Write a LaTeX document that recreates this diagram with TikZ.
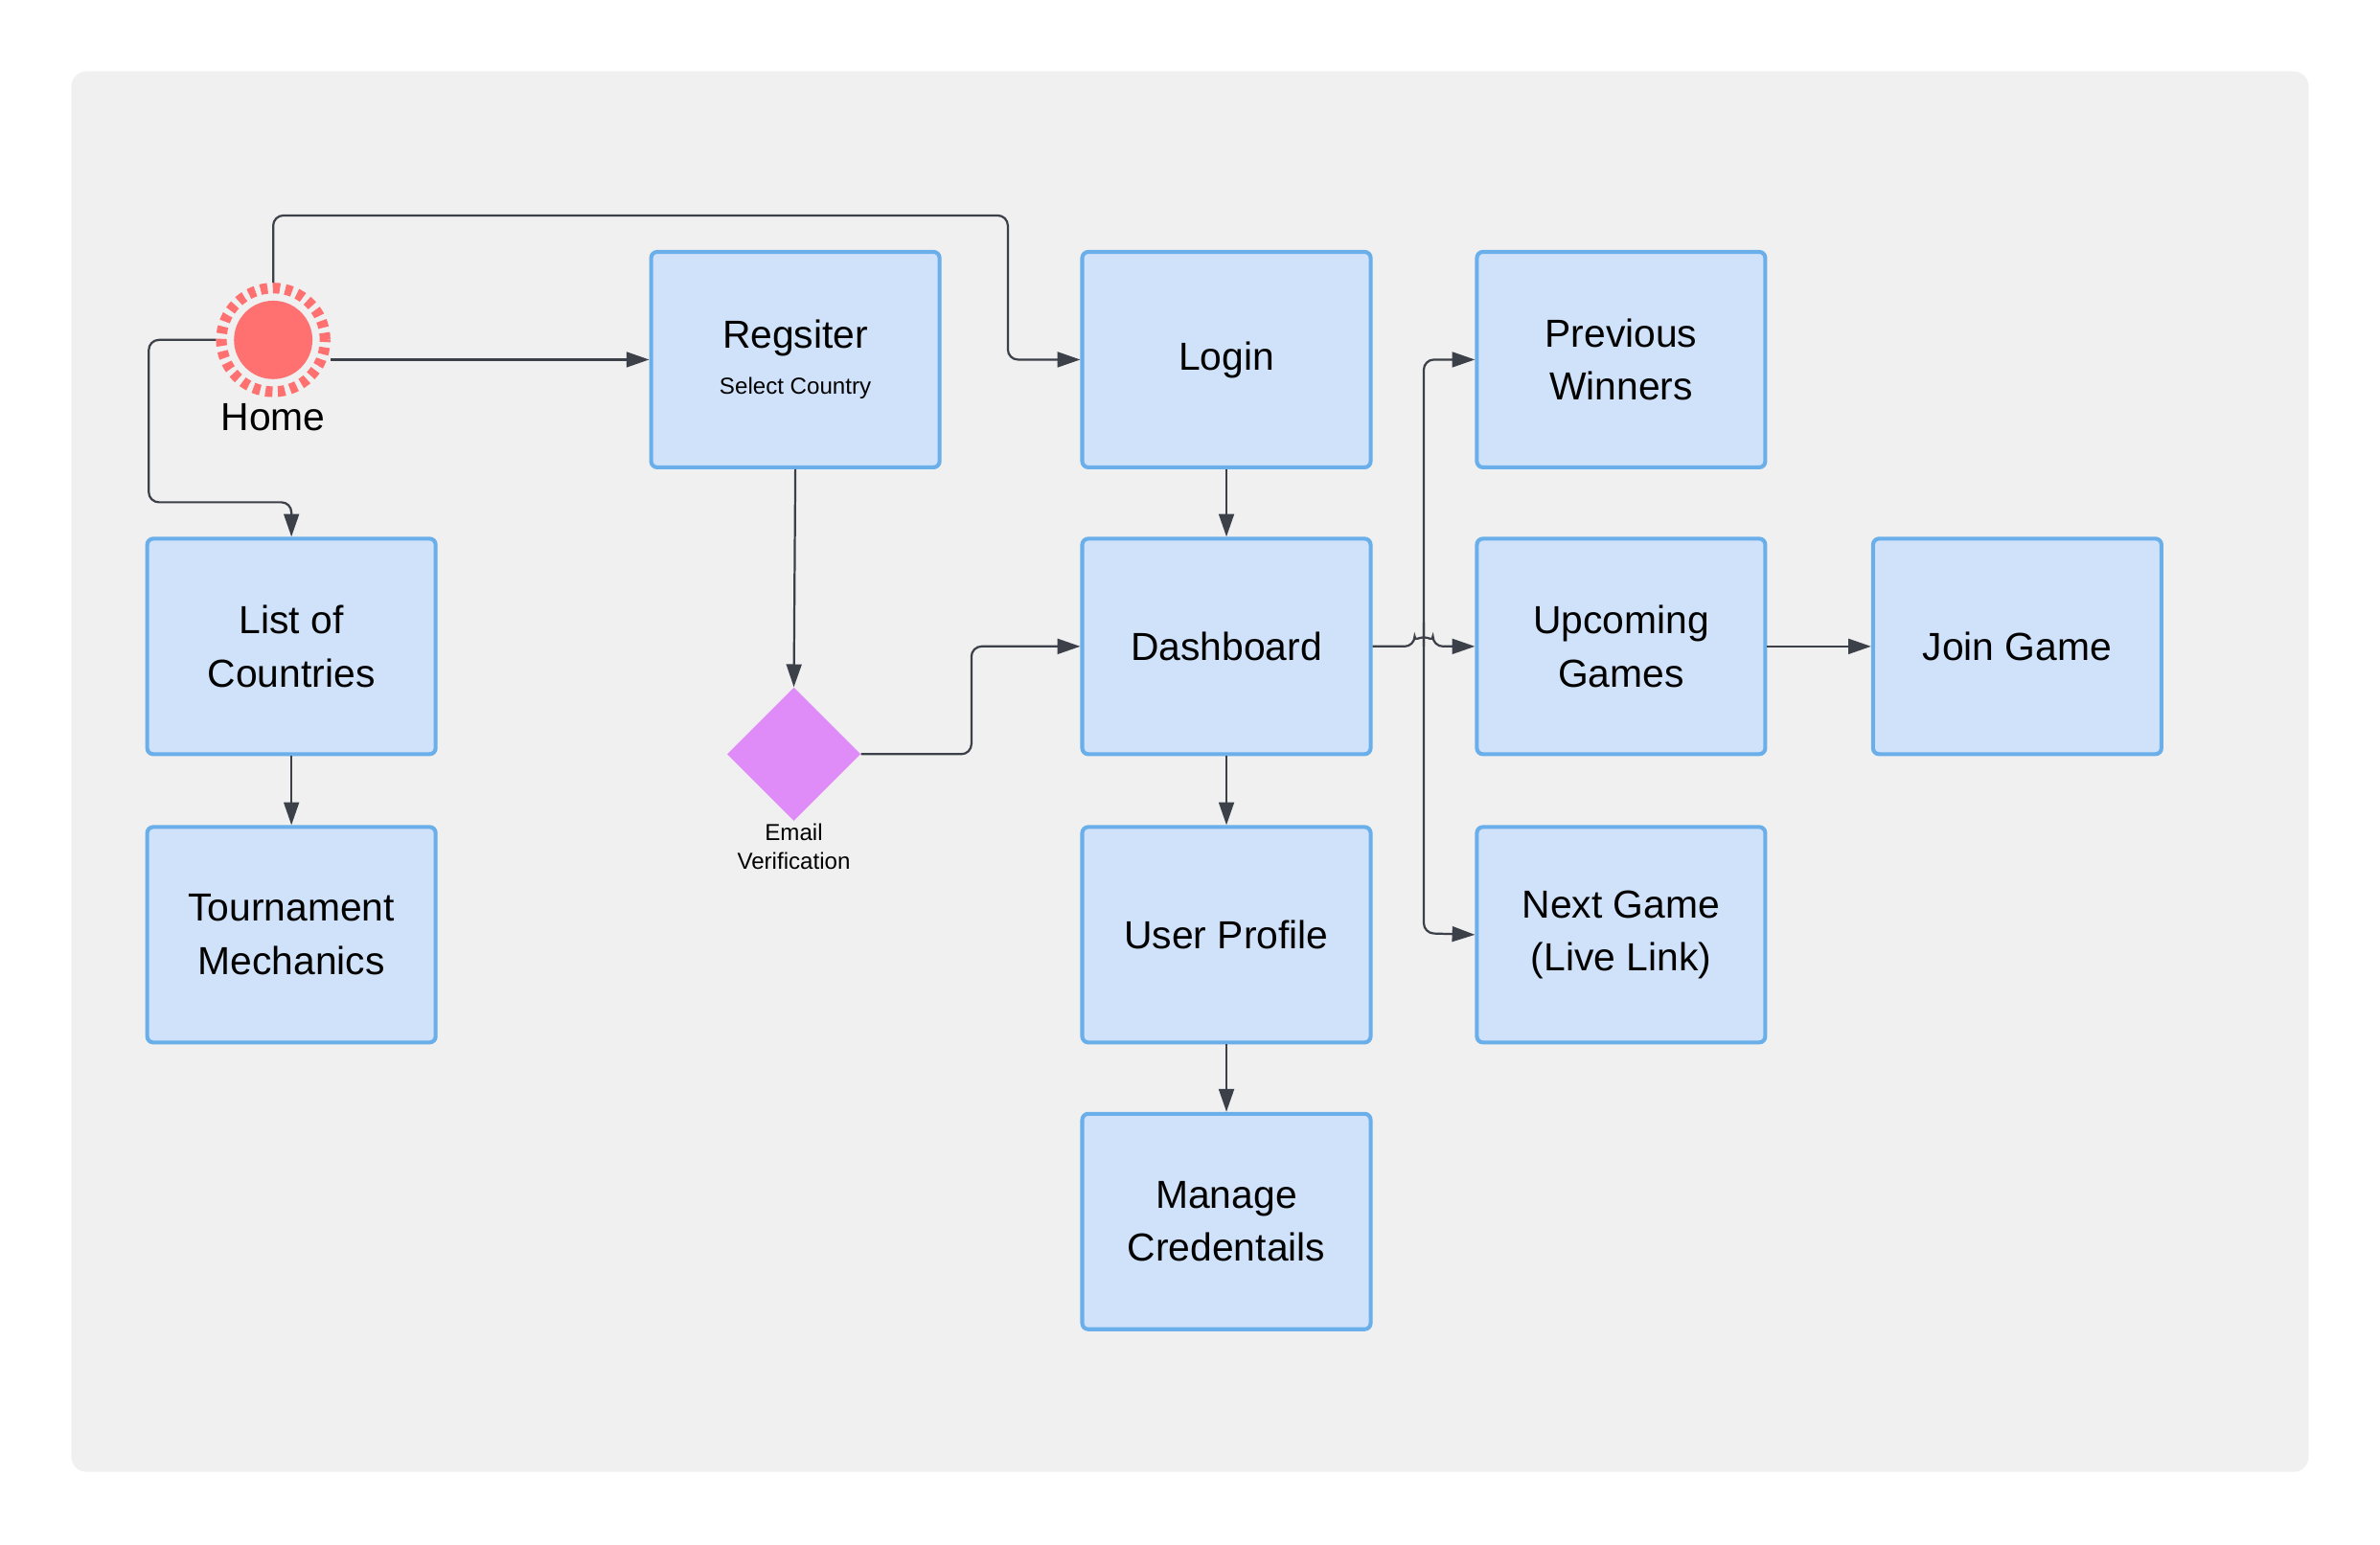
\documentclass[tikz,border=0pt]{standalone}
\usepackage{fontspec}
\setmainfont{Liberation Sans}
\usetikzlibrary{arrows.meta,shapes.geometric}
\definecolor{bg}{HTML}{F0F0F0}
\definecolor{bfill}{HTML}{CFE2FA}
\definecolor{bline}{HTML}{6AAEEA}
\definecolor{conn}{HTML}{3C4048}
\definecolor{homered}{HTML}{FF7070}
\definecolor{dia}{HTML}{DF8CF8}
\begin{document}
\begin{tikzpicture}[x=0.03cm,y=-0.03cm,
  box/.style={draw=bline,fill=bfill,line width=2.2pt,rounded corners=0.12cm,minimum width=5.7cm,minimum height=4.26cm,align=center,font=\fontsize{22}{30}\selectfont,inner sep=0pt},
  conn/.style={draw=conn,line width=1.2pt,rounded corners=0.2cm,-{Triangle[length=0.45cm,width=0.3cm]}},
  line/.style={draw=conn,line width=1.2pt,rounded corners=0.2cm}]
\useasboundingbox (0,0) rectangle (1568,1018);
\fill[bg,rounded corners=0.3cm] (47,47) rectangle (1521,970);
\node[box] (reg) at (524,237) {Regsiter\\[-4pt]{\fontsize{13}{16}\selectfont Select Country}};
\node[box] (login) at (808,237) {Login};
\node[box] (prev) at (1068,237) {Previous\\Winners};
\node[box] (list) at (192,426) {List of\\Countries};
\node[box] (dash) at (808,426) {Dashboard};
\node[box] (up) at (1068,426) {Upcoming\\Games};
\node[box] (join) at (1329,426) {Join Game};
\node[box] (tour) at (192,616) {Tournament\\Mechanics};
\node[box] (user) at (808,616) {User Profile};
\node[box] (next) at (1068,616) {Next Game\\(Live Link)};
\node[box] (man) at (808,805) {Manage\\Credentails};
\node[circle,draw=homered,line width=6pt,dash pattern=on 4pt off 3pt,minimum size=2.05cm,inner sep=0pt] (homering) at (180,224) {};
\node[circle,fill=homered,minimum size=1.55cm,inner sep=0pt] (home) at (180,224) {};
\node[font=\fontsize{22}{26}\selectfont] (homel) at (180,275) {Home};
\node[diamond,fill=dia,minimum width=2.64cm,minimum height=2.64cm,inner sep=0pt] (ev) at (523,497) {};
\node[font=\fontsize{13}{16}\selectfont,align=center] (evl) at (523,558) {Email\\Verification};
\coordinate (j) at (938,426);
\draw[conn] (homering.north) -- (180,142) -- (664,142) -- (664,237) -- (login.west);
\draw[conn] (218,237) -- (reg.west);
\draw[conn] (homering.west) -- (98,224) -- (98,331) -- (192,331) -- (list.north);
\draw[conn] (reg.south) -- (ev.north);
\draw[conn] (ev.east) -- (640,497) -- (640,426) -- (dash.west);
\draw[conn] (login) -- (dash);
\draw[conn] (dash) -- (user);
\draw[conn] (user) -- (man);
\draw[conn] (list) -- (tour);
\draw[conn] (up) -- (join);
\draw[conn] (dash.east) -- (932,426) arc[start angle=180,end angle=0,radius=0.18cm] -- (up.west);
\draw[conn] (938,426) -- (938,237) -- (prev.west);
\draw[conn] (938,410) -- (938,615) -- (next.west);
\end{tikzpicture}
\end{document}
